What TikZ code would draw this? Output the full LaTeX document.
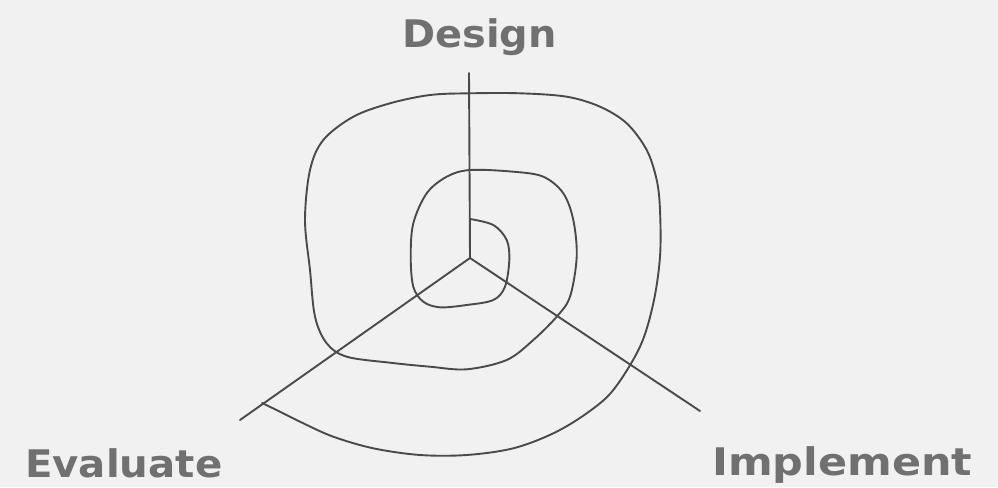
\documentclass[tikz,border=0pt]{standalone}
\usepackage{fontspec}
\setmainfont{DejaVu Sans}
\definecolor{paper}{HTML}{F1F1F1}
\definecolor{ink}{HTML}{4A4A4A}
\definecolor{label}{HTML}{707070}
\begin{document}
\begin{tikzpicture}[x=1pt,y=-1pt,
  lbl/.style={inner sep=0pt,anchor=base west,text=label,text depth=0pt,font=\fontsize{38}{42}\selectfont\bfseries},
  pen/.style={draw=ink,line width=1.9pt,line cap=round,line join=round}]
\fill[paper] (0,0) rectangle (998,487);
\useasboundingbox (0,0) rectangle (998,487);
\coordinate (c) at (470,258);
\coordinate (d) at (469,73);
\coordinate (e) at (240,420);
\coordinate (i) at (700,411);
\node[lbl] (design) at (402,48) {\scalebox{1.05}[1]{Design}};
\node[lbl] (evaluate) at (25,477) {\scalebox{1.06}[1]{Evaluate}};
\node[lbl] (implement) at (712,475) {\scalebox{1.13}[1]{Implement}};
\draw[pen] (d) -- (c) -- (e);
\draw[pen] (c) -- (i);
\draw[pen] plot[smooth,tension=0.55] coordinates {
(470,219) (493.3,225) (506.7,240) (509.3,260) (505,286.7) (493.3,300) (466.7,305) (440,307.3)
(423.3,301.7) (413.3,286.7) (410.7,256.7) (413.3,223.3) (426.7,193.3) (446.7,176.7) (470,170)
(513.3,171.7) (543.3,176.7) (563.3,193.3) (573.3,220) (576.7,256.7) (570,296.7) (556.7,316.7)
(533.3,340) (506.7,360) (466.7,369.3) (430,366.7) (390,362.7) (346.7,356.7) (326.7,343.3)
(315,316.7) (310,270) (305,220) (310,170) (323.3,140) (353.3,116.7) (390,103.3) (430,95)
(470,93.3) (520,93.3) (566.7,96.7) (600,106.7) (626.7,123.3) (646.7,150) (656.7,180) (660,210)
(660,256.7) (653.3,303.3) (640,346.7) (613.3,390) (586.7,413.3) (553.3,433.3) (513.3,448.3)
(466.7,455) (420,455) (373.3,448.3) (333.3,436.7) (303.3,423.3) (280,411.7) (262,403)};
\end{tikzpicture}
\end{document}
